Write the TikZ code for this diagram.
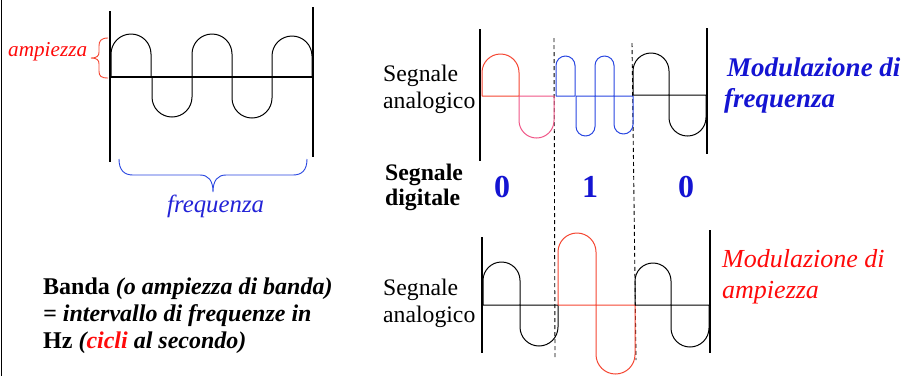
\documentclass[tikz,border=0pt]{standalone}
\usepackage{fontspec}
\setmainfont{LiberationSerif}[Extension=.ttf, UprightFont=*-Regular, BoldFont=*-Bold, ItalicFont=*-Italic, BoldItalicFont=*-BoldItalic]
\definecolor{tred}{RGB}{255,10,10}
\definecolor{wred}{RGB}{245,70,50}
\definecolor{wpink}{RGB}{240,85,135}
\definecolor{wblue}{RGB}{40,70,225}
\definecolor{tblue}{RGB}{35,35,215}
\definecolor{dblue}{RGB}{20,20,210}
\newcommand{\halfwave}[5]{%
  \pgfmathsetmacro\hwr{(#3-#2)/2}%
  \pgfmathsetmacro\hwm{(#2+#3)/2}%
  \pgfmathsetmacro\hwd{sign(#4-#5)}%
  \pgfmathsetmacro\hwc{#5+\hwd*\hwr}%
  \pgfmathsetmacro\hwk{0.5523*\hwr}%
  \pgfmathsetmacro\hwcy{\hwc-\hwd*\hwk}%
  \draw[wave,#1] (#2,#4) -- (#2,\hwc) .. controls (#2,\hwcy) and (\hwm-\hwk,#5) .. (\hwm,#5)
     .. controls (\hwm+\hwk,#5) and (#3,\hwcy) .. (#3,\hwc) -- (#3,#4) -- cycle;%
}
\begin{document}
\begin{tikzpicture}[x=1pt,y=-1pt,
  txt/.style={inner sep=0pt, anchor=base west},
  wave/.style={line width=1pt, line join=round},
  axisline/.style={line width=1.1pt},
  divider/.style={line width=0.9pt, dash pattern=on 4pt off 3pt},
  lbl/.style={txt, font=\fontsize{23.7}{27}\selectfont},
  blbl/.style={txt, font=\bfseries\fontsize{23.7}{27}\selectfont},
  band/.style={txt, font=\bfseries\fontsize{24}{27}\selectfont},
  digit/.style={inner sep=0pt, anchor=base, text=dblue, font=\bfseries\fontsize{32}{34}\selectfont}]
\useasboundingbox (0,0) rectangle (904,376);
\fill[white] (0,0) rectangle (904,376);
% slide border
\draw[line width=1.5pt] (1.5,0) -- (1.5,376);

% ---------- top-left wave ----------
\draw[axisline] (110,11) -- (110,162);
\draw[axisline] (313,7) -- (313,157);
\halfwave{black}{111}{151}{77}{34}
\halfwave{black}{152}{192}{77}{117}
\halfwave{black}{192}{232}{77}{34}
\halfwave{black}{232}{272}{77}{118}
\halfwave{black}{272}{312}{77}{36}
\draw[line width=1.4pt] (110,77) -- (314,77);
% amplitude brace
\draw[wred, line width=0.9pt] (108,38) .. controls (101,38) and (99,41) .. (99,46) -- (99,52)
   .. controls (99,56) and (97,58) .. (91,58) .. controls (97,58) and (99,60) .. (99,64) -- (99,71)
   .. controls (99,76) and (101,78) .. (108,78);
\node[txt, text=tred, font=\itshape\fontsize{21.2}{24}\selectfont] (amp) at (8,56) {ampiezza};
% frequency brace
\draw[wblue, line width=0.9pt] (119,159) .. controls (119,170) and (124,175) .. (133,175) -- (200,175)
   .. controls (208,175) and (213,180) .. (213,192) .. controls (213,180) and (218,175) .. (226,175)
   -- (293,175) .. controls (302,175) and (307,170) .. (307,159);
\node[txt, text=tblue, font=\itshape\fontsize{24.8}{28}\selectfont] (freq) at (167,212) {frequenza};

% ---------- dashed dividers ----------
\coordinate (d1t) at (554,38);
\coordinate (d1b) at (555,358);
\coordinate (d2t) at (632,43);
\coordinate (d2b) at (636,360);
\draw[divider] (d1t) -- (d1b);
\draw[divider] (d2t) -- (d2b);

% ---------- FM wave ----------
\node[lbl] (fms) at (383,81) {Segnale};
\node[lbl] (fma) at (383,108) {analogico};
\draw[axisline] (480,29) -- (480,161);
\draw[axisline] (707,28) -- (707,154);
\halfwave{wred}{482}{519}{96}{54}
\halfwave{wpink}{519}{554}{96}{138}
\halfwave{wblue}{556}{575}{96}{56}
\halfwave{wblue}{576}{595}{96}{136}
\halfwave{wblue}{595}{614}{96}{56}
\halfwave{wblue}{614}{633}{96}{134}
\halfwave{black}{633}{669}{95}{53}
\halfwave{black}{669}{706}{95}{136}
\node[txt, text=dblue, font=\bfseries\itshape\fontsize{27}{31}\selectfont] (mf1) at (727,76) {Modulazione di};
\node[txt, text=dblue, font=\bfseries\itshape\fontsize{27}{31}\selectfont] (mf2) at (724,107) {frequenza};

% ---------- digital signal ----------
\node[blbl] (ds) at (385,180) {Segnale};
\node[blbl] (dd) at (385,205) {digitale};
\node[digit] (b1) at (502,197) {0};
\node[digit] (b2) at (590,197) {1};
\node[digit] (b3) at (686,197) {0};

% ---------- AM wave ----------
\node[lbl] (ams) at (383,295) {Segnale};
\node[lbl] (ama) at (383,322) {analogico};
\draw[axisline] (482,237) -- (482,353);
\draw[axisline] (710,230) -- (710,353);
\halfwave{black}{483}{520}{305}{262}
\halfwave{black}{520}{558}{305}{346}
\halfwave{wred}{558}{596}{305}{233}
\halfwave{wred}{596}{635}{305}{374}
\halfwave{black}{635}{671}{305}{263}
\halfwave{black}{671}{709}{305}{347}
\node[txt, text=tred, font=\itshape\fontsize{26}{30}\selectfont] (ma1) at (722,267) {Modulazione di};
\node[txt, text=tred, font=\itshape\fontsize{26}{30}\selectfont] (ma2) at (722,298) {ampiezza};

% ---------- band definition ----------
\node[band] (bd1) at (43,294) {Banda \itshape(o ampiezza di banda)};
\node[band] (bd2) at (43,321) {\itshape= intervallo di frequenze in};
\node[band] (bd3) at (43,348) {Hz \itshape(\textcolor{tred}{cicli} al secondo)};
\end{tikzpicture}
\end{document}
